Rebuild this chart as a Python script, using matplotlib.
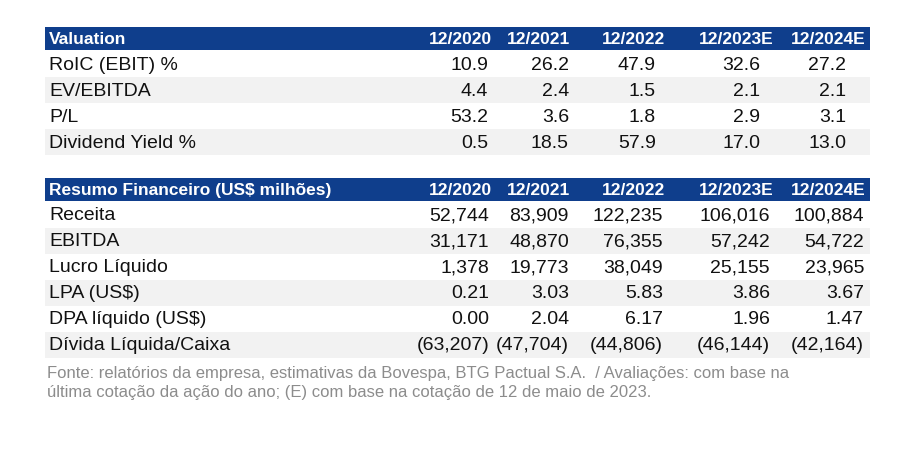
import matplotlib.pyplot as plt
from matplotlib.patches import Rectangle

plt.rcParams["font.family"] = "Liberation Sans"

years = ["12/2020", "12/2021", "12/2022", "12/2023E", "12/2024E"]

val_title = "Valuation"
val_rows = ["RoIC (EBIT) %", "EV/EBITDA", "P/L", "Dividend Yield %"]
val_data = [
    ["10.9", "26.2", "47.9", "32.6", "27.2"],
    ["4.4", "2.4", "1.5", "2.1", "2.1"],
    ["53.2", "3.6", "1.8", "2.9", "3.1"],
    ["0.5", "18.5", "57.9", "17.0", "13.0"],
]

fin_title = "Resumo Financeiro (US$ milhões)"
fin_rows = ["Receita", "EBITDA", "Lucro Líquido", "LPA (US$)", "DPA líquido (US$)", "Dívida Líquida/Caixa"]
fin_data = [
    ["52,744", "83,909", "122,235", "106,016", "100,884"],
    ["31,171", "48,870", "76,355", "57,242", "54,722"],
    ["1,378", "19,773", "38,049", "25,155", "23,965"],
    ["0.21", "3.03", "5.83", "3.86", "3.67"],
    ["0.00", "2.04", "6.17", "1.96", "1.47"],
    ["(63,207)", "(47,704)", "(44,806)", "(46,144)", "(42,164)"],
]

footnote = ("Fonte: relatórios da empresa, estimativas da Bovespa, BTG Pactual S.A.  / Avaliações: com base na\n"
            "última cotação da ação do ano; (E) com base na cotação de 12 de maio de 2023.")

W, H = 911, 453
fig = plt.figure(figsize=(W / 100, H / 100), dpi=100)
ax = fig.add_axes([0, 0, 1, 1])
ax.set_xlim(0, W)
ax.set_ylim(H, 0)
ax.axis("off")

x0, x1 = 45, 870
head_x = [492, 570, 665, 773, 866]
val_x = [488, 569, 656, 760, 846]
fin_x = [489, 569, 663, 770, 864]
blue = "#0F3E8C"
gray = "#F2F2F2"


def draw_table(top, title, rows, data, xs):
    hh, rh = 23, 26
    ax.add_patch(Rectangle((x0, top), x1 - x0, hh, color=blue, lw=0))
    ax.text(x0 + 4, top + hh / 2 + 1, title, color="white", fontsize=12.5, fontweight="bold", va="center")
    for x, y in zip(head_x, years):
        ax.text(x, top + hh / 2 + 1, y, color="white", fontsize=12.5, fontweight="bold", va="center", ha="right")
    y = top + hh + 1
    for i, (name, vals) in enumerate(zip(rows, data)):
        if i % 2 == 1:
            ax.add_patch(Rectangle((x0, y), x1 - x0, rh, color=gray, lw=0))
        ax.text(x0 + 4, y + rh / 2 + 1, name, fontsize=14, va="center", color="#111111")
        for x, v in zip(xs, vals):
            ax.text(x, y + rh / 2 + 1, v, fontsize=14, va="center", ha="right", color="#111111")
        y += rh


draw_table(27, val_title, val_rows, val_data, val_x)
draw_table(178, fin_title, fin_rows, fin_data, fin_x)
ax.text(x0 + 2, 366, footnote, fontsize=12, color="#8C8C8C", va="top", linespacing=1.35)

fig.savefig("out.png", dpi=100)
